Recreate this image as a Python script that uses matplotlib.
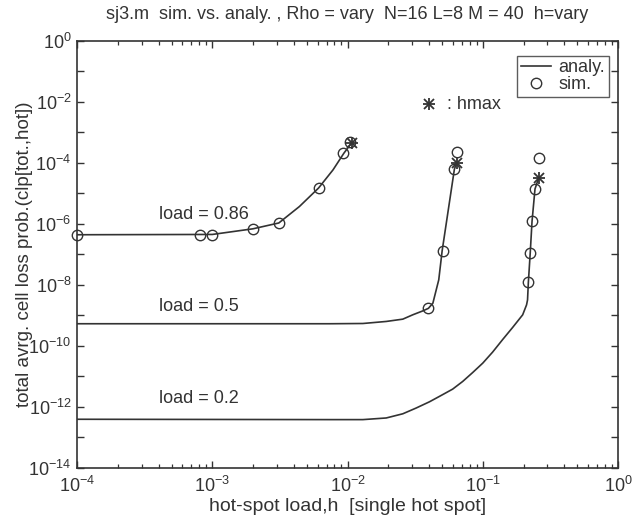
import math
import matplotlib
matplotlib.use("Agg")
import matplotlib.pyplot as plt
from matplotlib.lines import Line2D
from matplotlib.ticker import LogLocator, FixedLocator, NullFormatter, FuncFormatter

plt.rcParams['font.family'] = ['Liberation Sans', 'DejaVu Sans']
plt.rcParams['mathtext.fontset'] = 'custom'
plt.rcParams['mathtext.rm'] = 'Liberation Sans'
plt.rcParams['mathtext.it'] = 'Liberation Sans:italic'
plt.rcParams['mathtext.bf'] = 'Liberation Sans:bold'

# ---- data ----
h_an_086 = [1e-4, 1e-3, 2.0e-3, 3.1e-3, 4.4e-3, 6.1e-3, 7.8e-3, 9.4e-3, 1.07e-2]
p_an_086 = [4.4e-7, 4.5e-7, 6.9e-7, 1.07e-6, 3.7e-6, 1.5e-5, 5.9e-5, 2.1e-4, 4.5e-4]
h_sim_086 = [1e-4, 8.1e-4, 1.0e-3, 2.0e-3, 3.1e-3, 6.1e-3, 9.3e-3, 1.05e-2]
p_sim_086 = [4.4e-7, 4.4e-7, 4.4e-7, 6.9e-7, 1.07e-6, 1.5e-5, 2.1e-4, 4.7e-4]
hmax_086 = [1.07e-2]
pmax_086 = [4.5e-4]

h_an_05 = [1e-4, 7.4e-3, 0.01297, 0.0193, 0.0256, 0.0303, 0.036, 0.0396, 0.0427,
           0.0472, 0.050, 0.0616, 0.064]
p_an_05 = [5.3e-10, 5.3e-10, 5.4e-10, 6.3e-10, 7.5e-10, 1.04e-9, 1.4e-9, 1.7e-9, 2.5e-9,
           1.46e-8, 1.3e-7, 6.2e-5, 1.02e-4]
h_sim_05 = [0.0396, 0.0504, 0.0616, 0.064]
p_sim_05 = [1.7e-9, 1.28e-7, 6.2e-5, 2.3e-4]
hmax_05 = [0.064]
pmax_05 = [1.02e-4]

h_an_02 = [1e-4, 7.4e-3, 0.01297, 0.0193, 0.0256, 0.0321, 0.0403, 0.0478, 0.0598,
           0.0710, 0.0841, 0.0998, 0.118, 0.140, 0.166, 0.197, 0.2104, 0.214,
           0.217, 0.224, 0.231, 0.243, 0.258]
p_an_02 = [3.9e-13, 3.8e-13, 3.8e-13, 4.3e-13, 5.9e-13, 9.1e-13, 1.46e-12, 2.2e-12, 3.8e-12,
           6.8e-12, 1.33e-11, 2.7e-11, 6.2e-11, 1.6e-10, 4.0e-10, 1.04e-9, 2.2e-9, 3.2e-9,
           1.2e-8, 1.1e-7, 1.2e-6, 1.4e-5, 3.1e-5]
h_sim_02 = [0.217, 0.224, 0.231, 0.243, 0.258]
p_sim_02 = [1.2e-8, 1.1e-7, 1.2e-6, 1.4e-5, 1.5e-4]
hmax_02 = [0.258]
pmax_02 = [3.1e-5]

load_labels = ['load = 0.86', 'load = 0.5', 'load = 0.2']
label_h = [4e-4, 4e-4, 4e-4]
label_p = [2.0e-6, 2.0e-9, 1.9e-12]

title = 'sj3.m  sim. vs. analy. , Rho = vary  N=16 L=8 M = 40  h=vary'
xlabel = 'hot-spot load,h  [single hot spot]'
ylabel = 'total avrg. cell loss prob.(clp[tot.,hot])'

# ---- drawing ----
C = '#333333'
fig = plt.figure(figsize=(6.32, 5.25), dpi=100)
ax = fig.add_axes([0.122, 0.109, 0.856, 0.813])

for h, p in [(h_an_086, p_an_086), (h_an_05, p_an_05), (h_an_02, p_an_02)]:
    ax.plot(h, p, '-', color=C, lw=1.2)
for h, p in [(h_sim_086, p_sim_086), (h_sim_05, p_sim_05), (h_sim_02, p_sim_02)]:
    ax.plot(h, p, 'o', mfc='none', mec=C, ms=7.5, mew=1.0, clip_on=False)
for h, p in [(hmax_086, pmax_086), (hmax_05, pmax_05), (hmax_02, pmax_02)]:
    ax.plot(h, p, '+', color=C, ms=9, mew=1.3)
    ax.plot(h, p, 'x', color=C, ms=7, mew=1.3)

for t, hx, py in zip(load_labels, label_h, label_p):
    ax.text(hx, py, t, fontsize=13, color=C, ha='left', va='center')

# hmax note
ax.plot([0.0402], [8.5e-3], '+', color=C, ms=9, mew=1.3)
ax.plot([0.0402], [8.5e-3], 'x', color=C, ms=7, mew=1.3)
ax.text(0.0547, 8.5e-3, ': hmax', fontsize=13, color=C, ha='left', va='center')

ax.set_xscale('log')
ax.set_yscale('log')
ax.set_xlim(1e-4, 1e0)
ax.set_ylim(1e-14, 1e0)

ax.xaxis.set_major_locator(FixedLocator([1e-4, 1e-3, 1e-2, 1e-1, 1e0]))
ax.xaxis.set_minor_locator(LogLocator(base=10, subs=range(2, 10), numticks=20))
ax.xaxis.set_minor_formatter(NullFormatter())
ax.yaxis.set_major_locator(FixedLocator([10.0 ** e for e in range(-14, 1)]))
ax.yaxis.set_minor_locator(FixedLocator([]))


def xfmt(v, pos):
    e = int(round(math.log10(v)))
    return r'$\mathregular{10^{%d}}$' % e


def yfmt(v, pos):
    e = int(round(math.log10(v)))
    if e % 2 != 0:
        return ''
    return r'$\mathregular{10^{%d}}$' % e


ax.xaxis.set_major_formatter(FuncFormatter(xfmt))
ax.yaxis.set_major_formatter(FuncFormatter(yfmt))

ax.tick_params(which='both', direction='in', top=True, right=True, colors=C,
               labelcolor=C, labelsize=13)
ax.tick_params(which='major', length=5, width=1.0)
ax.tick_params(which='minor', length=3, width=0.9)
ax.tick_params(axis='x', pad=6)
ax.tick_params(axis='y', pad=4)
for s in ax.spines.values():
    s.set_color(C)
    s.set_linewidth(1.2)

ax.set_title(title, fontsize=13, color=C, pad=16)
ax.set_xlabel(xlabel, fontsize=14, color=C, labelpad=1)
ax.set_ylabel(ylabel, fontsize=13.5, color=C)
ax.yaxis.set_label_coords(-0.082, 0.5)

handles = [Line2D([], [], color=C, lw=1.2),
           Line2D([], [], ls='none', marker='o', mfc='none', mec=C, ms=7.5, mew=1.0)]
leg = ax.legend(handles, ['analy.', 'sim.'], loc='upper right',
                bbox_to_anchor=(0.983, 0.965), borderaxespad=0, fontsize=13,
                frameon=True, fancybox=False, handlelength=1.7, handletextpad=0.4,
                labelspacing=0.0, borderpad=0.2)
leg.get_frame().set_edgecolor(C)
leg.get_frame().set_linewidth(1.0)
for t in leg.get_texts():
    t.set_color(C)

fig.savefig('out.png', dpi=100, facecolor='white')
